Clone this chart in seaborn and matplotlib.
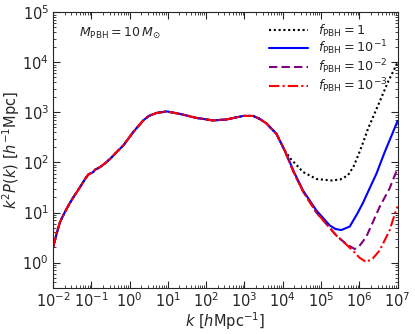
import numpy as np
import pandas as pd
import matplotlib
matplotlib.use("Agg")
import matplotlib.pyplot as plt
import seaborn as sns

# ===============================
# DATA (log10 values)
# ===============================

# shared part of all four curves
logk_common = [-2.0, -1.9, -1.82, -1.7, -1.6, -1.5, -1.38, -1.27, -1.165, -1.08,
               -1.0, -0.95, -0.9, -0.86, -0.77, -0.65, -0.513, -0.35, -0.166, 0.095,
               0.356, 0.5, 0.705, 0.966, 1.313, 1.749, 2.182, 2.532, 2.965, 3.226,
               3.4, 3.575, 3.836, 4.05]
logy_common = [0.31, 0.6, 0.81, 1.0, 1.14, 1.27, 1.41, 1.54, 1.67, 1.76,
               1.79, 1.81, 1.86, 1.87, 1.91, 1.98, 2.07, 2.2, 2.34, 2.61,
               2.84, 2.93, 2.99, 3.02, 2.97, 2.89, 2.84, 2.86, 2.93, 2.93,
               2.87, 2.78, 2.57, 2.24]

# small-scale tails
logk_f1 = [4.2, 4.53, 4.88, 5.27, 5.5, 5.7, 5.85, 5.97, 6.1, 6.23, 6.49, 6.75, 7.0]
logy_f1 = [2.08, 1.81, 1.67, 1.64, 1.66, 1.74, 1.92, 2.14, 2.4, 2.68, 3.14, 3.61, 4.0]

logk_f01 = [4.3, 4.53, 4.88, 5.23, 5.38, 5.53, 5.75, 5.95, 6.1, 6.25, 6.45, 6.66, 6.85, 7.0]
logy_f01 = [1.8, 1.44, 1.04, 0.74, 0.67, 0.65, 0.72, 0.98, 1.2, 1.45, 1.78, 2.2, 2.55, 2.83]

logk_f001 = [4.3, 4.53, 4.88, 5.05, 5.4, 5.66, 5.88, 6.0, 6.18, 6.35, 6.53, 6.79, 7.0]
logy_f001 = [1.78, 1.42, 1.0, 0.85, 0.54, 0.37, 0.27, 0.33, 0.51, 0.8, 1.11, 1.48, 1.88]

logk_f0001 = [4.3, 4.53, 4.88, 5.05, 5.4, 5.66, 5.83, 6.0, 6.18, 6.35, 6.53, 6.79, 6.97, 7.0]
logy_f0001 = [1.78, 1.42, 1.0, 0.85, 0.54, 0.36, 0.24, 0.1, 0.01, 0.08, 0.24, 0.64, 1.07, 1.12]

labels = [r"$f_{\mathrm{PBH}}=1$", r"$f_{\mathrm{PBH}}=10^{-1}$",
          r"$f_{\mathrm{PBH}}=10^{-2}$", r"$f_{\mathrm{PBH}}=10^{-3}$"]
colors = ["black", "blue", "purple", "red"]
styles = [(0, (1, 1.3)), "-", (0, (4, 2)), (0, (5, 1.5, 1, 1.5))]
tails = [(logk_f1, logy_f1), (logk_f01, logy_f01),
         (logk_f001, logy_f001), (logk_f0001, logy_f0001)]


# ===============================
# PLOT
# ===============================

sns.set_style("ticks")
plt.rcParams["mathtext.fontset"] = "dejavusans"

fig, ax = plt.subplots(figsize=(4.15, 3.34), dpi=100)
fig.subplots_adjust(left=0.128, right=0.958, top=0.963, bottom=0.139)

for lab, col, ls, (lk, ly) in zip(labels, colors, styles, tails):
    df = pd.DataFrame({
        "k": np.power(10.0, logk_common + lk),
        "P": np.power(10.0, logy_common + ly),
    })
    sns.lineplot(data=df, x="k", y="P", ax=ax, color=col, linestyle=ls,
                 linewidth=1.5, label=lab, sort=False)

ax.set_xscale("log")
ax.set_yscale("log")
ax.set_xlim(1e-2, 1e7)
ax.set_ylim(10 ** -0.5, 1e5)

ax.xaxis.set_major_locator(matplotlib.ticker.LogLocator(base=10, numticks=20))
ax.xaxis.set_minor_locator(matplotlib.ticker.LogLocator(base=10, subs=np.arange(2, 10), numticks=20))
ax.yaxis.set_major_locator(matplotlib.ticker.LogLocator(base=10, numticks=20))
ax.yaxis.set_minor_locator(matplotlib.ticker.LogLocator(base=10, subs=np.arange(2, 10), numticks=20))

ax.tick_params(which="both", direction="in", top=True, right=True, labelsize=10.5)
ax.tick_params(which="major", length=5, width=0.8, pad=3)
ax.tick_params(which="minor", length=2.5, width=0.6)

ax.set_xlabel(r"$k\ [h\mathrm{Mpc}^{-1}]$", fontsize=10.5, labelpad=0)
ax.set_ylabel(r"$k^2P(k)\ [h^{-1}\mathrm{Mpc}]$", fontsize=10.5, labelpad=0)

ax.text(0.075, 0.925, r"$M_{\mathrm{PBH}}=10\,M_{\odot}$", transform=ax.transAxes,
        fontsize=9, va="center", ha="left")

ax.legend(loc="upper right", frameon=False, fontsize=9.2, handlelength=3.0,
          labelspacing=0.0, borderaxespad=0.4)

plt.savefig("out.png", dpi=100)
